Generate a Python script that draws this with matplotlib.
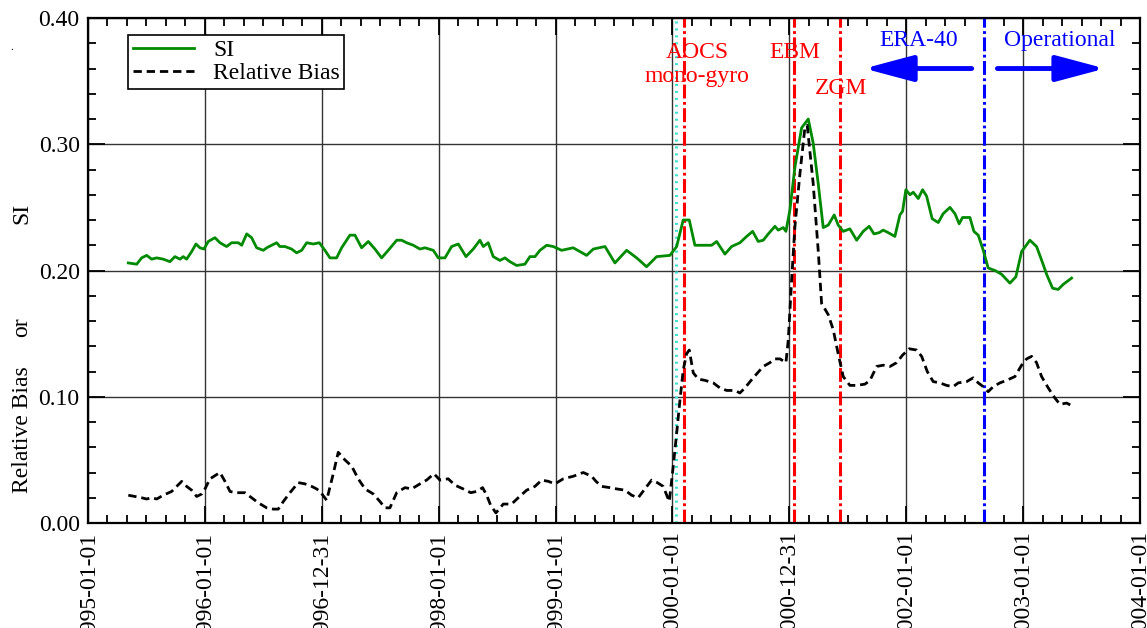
import matplotlib
matplotlib.use('Agg')
import matplotlib.pyplot as plt
from matplotlib.ticker import MultipleLocator, FixedLocator
import numpy as np

plt.rcParams['font.family'] = ['Liberation Serif', 'DejaVu Serif']
plt.rcParams['lines.scale_dashes'] = False

# weekly scatter index and relative bias, time in decimal years
si_t = [1995.345, 1995.417, 1995.459, 1995.502, 1995.545, 1995.588, 1995.644, 1995.701,
        1995.744, 1995.787, 1995.815, 1995.844, 1995.887, 1995.924, 1995.958, 1995.992,
        1996.029, 1996.086, 1996.129, 1996.186, 1996.229, 1996.286, 1996.315, 1996.358,
        1996.400, 1996.443, 1996.500, 1996.529, 1996.571, 1996.614, 1996.642, 1996.685,
        1996.742, 1996.785, 1996.828, 1996.871, 1996.927, 1996.979, 1997.027, 1997.070,
        1997.127, 1997.170, 1997.241, 1997.284, 1997.341, 1997.398, 1997.455, 1997.512,
        1997.569, 1997.641, 1997.683, 1997.726, 1997.783, 1997.840, 1997.883, 1997.954,
        1997.997, 1998.054, 1998.111, 1998.168, 1998.234, 1998.296, 1998.353, 1998.382,
        1998.424, 1998.467, 1998.524, 1998.567, 1998.610, 1998.667, 1998.738, 1998.781,
        1998.824, 1998.867, 1998.924, 1998.980, 1999.052, 1999.151, 1999.266, 1999.323,
        1999.423, 1999.508, 1999.608, 1999.694, 1999.779, 1999.865, 1999.979, 2000.036,
        2000.092, 2000.144, 2000.192, 2000.263, 2000.335, 2000.378, 2000.449, 2000.506,
        2000.577, 2000.635, 2000.686, 2000.734, 2000.777, 2000.820, 2000.877, 2000.905,
        2000.948, 2000.971, 2001.005, 2001.048, 2001.105, 2001.162, 2001.204, 2001.247,
        2001.290, 2001.333, 2001.384, 2001.418, 2001.461, 2001.518, 2001.576, 2001.632,
        2001.683, 2001.724, 2001.769, 2001.803, 2001.846, 2001.903, 2001.946, 2001.969,
        2001.997, 2002.032, 2002.060, 2002.103, 2002.140, 2002.174, 2002.222, 2002.274,
        2002.316, 2002.374, 2002.417, 2002.453, 2002.482, 2002.545, 2002.579, 2002.616,
        2002.659, 2002.701, 2002.759, 2002.816, 2002.887, 2002.938, 2002.987, 2003.058,
        2003.115, 2003.167, 2003.201, 2003.252, 2003.300, 2003.343, 2003.415]
si = [0.206, 0.205, 0.210, 0.212, 0.209, 0.210, 0.209, 0.207,
      0.211, 0.209, 0.211, 0.209, 0.215, 0.221, 0.218, 0.217,
      0.223, 0.226, 0.222, 0.219, 0.222, 0.222, 0.220, 0.229,
      0.226, 0.218, 0.216, 0.218, 0.220, 0.222, 0.219, 0.219,
      0.217, 0.214, 0.216, 0.222, 0.221, 0.222, 0.216, 0.210,
      0.210, 0.218, 0.228, 0.228, 0.218, 0.223, 0.217, 0.210,
      0.216, 0.224, 0.224, 0.222, 0.220, 0.217, 0.218, 0.216,
      0.210, 0.210, 0.219, 0.221, 0.211, 0.217, 0.224, 0.219,
      0.222, 0.211, 0.208, 0.210, 0.207, 0.204, 0.205, 0.211,
      0.211, 0.216, 0.220, 0.219, 0.216, 0.218, 0.212, 0.217,
      0.219, 0.206, 0.216, 0.210, 0.203, 0.211, 0.212, 0.219,
      0.240, 0.240, 0.220, 0.220, 0.220, 0.223, 0.213, 0.219,
      0.222, 0.227, 0.231, 0.223, 0.224, 0.229, 0.235, 0.232,
      0.234, 0.231, 0.248, 0.282, 0.313, 0.320, 0.301, 0.269,
      0.234, 0.236, 0.244, 0.236, 0.231, 0.233, 0.224, 0.231,
      0.235, 0.229, 0.230, 0.232, 0.230, 0.227, 0.244, 0.247,
      0.264, 0.260, 0.262, 0.257, 0.264, 0.259, 0.241, 0.238,
      0.245, 0.250, 0.245, 0.237, 0.242, 0.242, 0.231, 0.228,
      0.216, 0.202, 0.200, 0.197, 0.190, 0.195, 0.215, 0.224,
      0.219, 0.206, 0.197, 0.186, 0.185, 0.189, 0.194]

bias_t = [1995.345, 1995.402, 1995.459, 1995.502, 1995.545, 1995.588, 1995.644, 1995.716,
          1995.802, 1995.844, 1995.887, 1995.930, 1995.973, 1996.001, 1996.044, 1996.129,
          1996.172, 1996.215, 1996.257, 1996.343, 1996.400, 1996.457, 1996.529, 1996.585,
          1996.628, 1996.671, 1996.728, 1996.799, 1996.856, 1996.914, 1996.956, 1996.985,
          1997.042, 1997.093, 1997.141, 1997.198, 1997.256, 1997.312, 1997.370, 1997.441,
          1997.498, 1997.541, 1997.583, 1997.641, 1997.712, 1997.769, 1997.840, 1997.897,
          1997.960, 1998.011, 1998.082, 1998.139, 1998.210, 1998.274, 1998.325, 1998.376,
          1998.411, 1998.445, 1998.490, 1998.553, 1998.624, 1998.681, 1998.753, 1998.824,
          1998.881, 1998.938, 1998.995, 1999.066, 1999.151, 1999.237, 1999.309, 1999.346,
          1999.394, 1999.465, 1999.523, 1999.594, 1999.651, 1999.707, 1999.765, 1999.822,
          1999.870, 1999.921, 1999.973, 2000.007, 2000.036, 2000.064, 2000.092, 2000.121,
          2000.144, 2000.178, 2000.221, 2000.278, 2000.349, 2000.406, 2000.464, 2000.535,
          2000.577, 2000.620, 2000.691, 2000.777, 2000.834, 2000.877, 2000.920, 2000.971,
          2000.991, 2001.020, 2001.048, 2001.091, 2001.133, 2001.153, 2001.204, 2001.247,
          2001.276, 2001.333, 2001.376, 2001.418, 2001.461, 2001.518, 2001.576, 2001.647,
          2001.690, 2001.747, 2001.803, 2001.861, 2001.918, 2001.969, 2002.026, 2002.089,
          2002.132, 2002.180, 2002.231, 2002.288, 2002.345, 2002.402, 2002.445, 2002.517,
          2002.573, 2002.616, 2002.659, 2002.701, 2002.744, 2002.802, 2002.859, 2002.930,
          2002.987, 2003.030, 2003.073, 2003.115, 2003.158, 2003.215, 2003.272, 2003.315,
          2003.372, 2003.415]
bias = [0.022, 0.021, 0.020, 0.019, 0.020, 0.019, 0.022, 0.025,
        0.033, 0.029, 0.026, 0.021, 0.023, 0.027, 0.035, 0.040,
        0.033, 0.025, 0.024, 0.024, 0.020, 0.016, 0.012, 0.011,
        0.011, 0.017, 0.024, 0.032, 0.031, 0.029, 0.027, 0.025,
        0.018, 0.037, 0.056, 0.050, 0.045, 0.035, 0.027, 0.023,
        0.017, 0.012, 0.012, 0.024, 0.028, 0.027, 0.031, 0.034,
        0.039, 0.034, 0.035, 0.030, 0.027, 0.024, 0.025, 0.028,
        0.022, 0.014, 0.008, 0.015, 0.015, 0.020, 0.026, 0.029,
        0.034, 0.033, 0.031, 0.035, 0.037, 0.040, 0.037, 0.033,
        0.029, 0.028, 0.027, 0.026, 0.022, 0.020, 0.027, 0.034,
        0.032, 0.029, 0.017, 0.045, 0.071, 0.097, 0.121, 0.134,
        0.137, 0.119, 0.114, 0.113, 0.111, 0.107, 0.105, 0.105,
        0.103, 0.107, 0.115, 0.124, 0.127, 0.130, 0.130, 0.127,
        0.145, 0.193, 0.235, 0.277, 0.313, 0.315, 0.269, 0.216,
        0.174, 0.165, 0.153, 0.134, 0.116, 0.109, 0.109, 0.110,
        0.113, 0.124, 0.125, 0.124, 0.127, 0.133, 0.138, 0.137,
        0.132, 0.120, 0.112, 0.111, 0.109, 0.108, 0.111, 0.112,
        0.115, 0.111, 0.108, 0.104, 0.108, 0.111, 0.113, 0.116,
        0.125, 0.130, 0.132, 0.127, 0.116, 0.107, 0.099, 0.094,
        0.095, 0.093]

# instrument events and reanalysis switch
gyro_start = 2000.030
events = [2000.103, 2001.039, 2001.433]
era40_end = 2002.665

year_ticks = [1995, 1996, 1997, 1998, 1999, 2000, 2001, 2002, 2003, 2004]
year_labels = ['1995-01-01', '1996-01-01', '1996-12-31', '1998-01-01', '1999-01-01',
               '2000-01-01', '2000-12-31', '2002-01-01', '2003-01-01', '2004-01-01']

fs = 17

fig = plt.figure(figsize=(11.47, 6.28), dpi=100)
ax = fig.add_axes([0.0767, 0.1672, 0.9172, 0.8041])

ax.grid(True, which='major', color='#333333', lw=1.0)
ax.set_axisbelow(True)

ax.axvline(gyro_start, color='#40e0d0', lw=2.2, ls=(0, (1.5, 3.5)))
for e in events:
    ax.axvline(e, color='#ff0000', lw=2.2, ls=(0, (10, 2.5, 2, 2.5)))
ax.axvline(era40_end, color='#0000ff', lw=2.2, ls=(0, (10, 2.5, 2, 2.5)))

ax.plot(si_t, si, color='#008a00', lw=2.0, label='SI')
ax.plot(bias_t, bias, color='black', lw=2.0, ls=(0, (6, 3.5)), label='Relative Bias')

ax.set_xlim(1995, 2004)
ax.set_ylim(0, 0.40)
ax.xaxis.set_major_locator(FixedLocator(year_ticks))
ax.set_xticklabels(year_labels, rotation=90)
ax.xaxis.set_minor_locator(MultipleLocator(1 / 6))
ax.yaxis.set_major_locator(MultipleLocator(0.1))
ax.yaxis.set_minor_locator(MultipleLocator(0.02))
ax.yaxis.set_major_formatter(matplotlib.ticker.FormatStrFormatter('%.2f'))
ax.tick_params(which='both', direction='in', top=True, right=True,
               labelsize=fs, width=1.3, colors='black')
ax.tick_params(which='major', length=12, pad=6)
ax.tick_params(which='minor', length=6)
for s in ax.spines.values():
    s.set_linewidth(1.6)

red_kw = dict(color='#ff0000', fontsize=fs, ha='center', va='center')
ax.text(2000.21, 0.373, 'AOCS', **red_kw)
ax.text(2000.21, 0.354, 'mono-gyro', **red_kw)
ax.text(2001.05, 0.373, 'EBM', **red_kw)
ax.text(2001.44, 0.344, 'ZGM', **red_kw)

blue_kw = dict(color='#0000ff', fontsize=fs, ha='center', va='center')
ax.text(2002.11, 0.382, 'ERA-40', **blue_kw)
ax.text(2003.31, 0.382, 'Operational', **blue_kw)
arrow = dict(arrowstyle='-|>,head_length=1.5,head_width=0.4', color='#0000ff',
             lw=3.5, mutation_scale=20, shrinkA=0, shrinkB=0)
ax.annotate('', xy=(2001.64, 0.360), xytext=(2002.56, 0.360), arrowprops=arrow)
ax.annotate('', xy=(2003.70, 0.360), xytext=(2002.78, 0.360), arrowprops=arrow)

leg = ax.legend(loc='upper left', bbox_to_anchor=(0.038, 0.966), borderaxespad=0,
                fontsize=fs, fancybox=False, framealpha=1, edgecolor='black',
                handlelength=2.6, borderpad=0.2, labelspacing=0.05)
leg.get_frame().set_linewidth(1.2)

fig.text(22 / 1147, 1 - 213 / 628, 'SI', rotation=90, fontsize=fs, ha='center', va='center')
fig.text(22 / 1147, 1 - 327 / 628, 'or', rotation=90, fontsize=fs, ha='center', va='center')
fig.text(22 / 1147, 1 - 430 / 628, 'Relative Bias', rotation=90, fontsize=fs,
         ha='center', va='center')
fig.text(12 / 1147, 1 - 48 / 628, '.', fontsize=8, ha='center', va='center')

fig.savefig('out.png', dpi=100)
